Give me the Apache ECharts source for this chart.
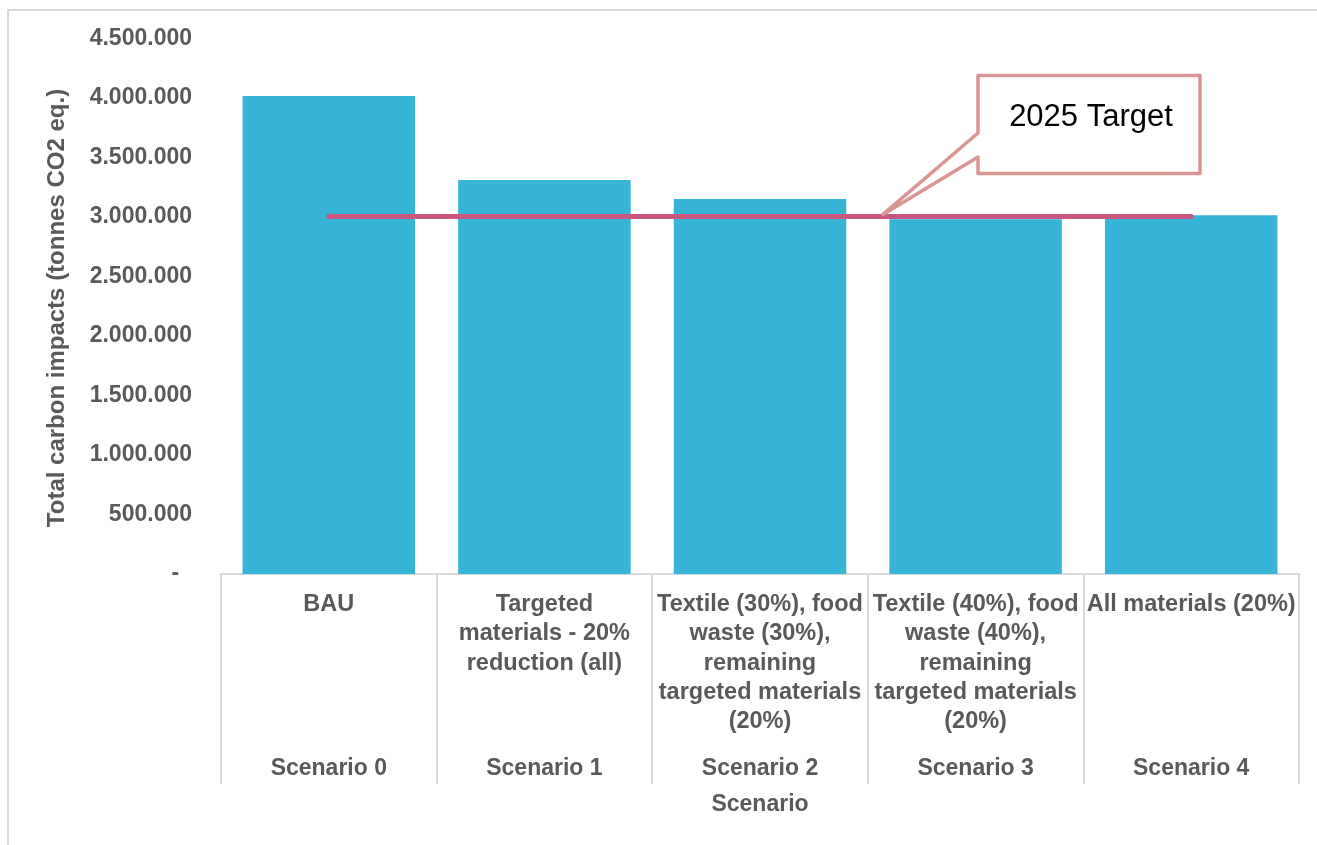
<!DOCTYPE html>
<html>
<head>
<meta charset="utf-8">
<script src="https://cdn.jsdelivr.net/npm/echarts@6/dist/echarts.min.js"></script>
<style>
  html, body { margin: 0; padding: 0; background: #ffffff; }
  #chart { width: 1317px; height: 845px; }
</style>
</head>
<body>
<div id="chart"></div>
<script>
// ---- data ----
var scenarioDescriptions = [
  'BAU',
  'Targeted\nmaterials - 20%\nreduction (all)',
  'Textile (30%), food\nwaste (30%),\nremaining\ntargeted materials\n(20%)',
  'Textile (40%), food\nwaste (40%),\nremaining\ntargeted materials\n(20%)',
  'All materials (20%)'
];
var scenarioNames = ['Scenario 0', 'Scenario 1', 'Scenario 2', 'Scenario 3', 'Scenario 4'];
var carbonImpacts = [4017000, 3311000, 3151000, 2982000, 3014000];
var targetValues = [3005000, 3005000, 3005000, 3005000, 3005000];
var yTickMin = 0, yTickMax = 4500000, yTickStep = 500000;
var yAxisTitle = 'Total carbon impacts (tonnes CO2 eq.)';
var xAxisTitle = 'Scenario';
var targetLabel = '2025 Target';

var FONT = "'Liberation Sans', Arial, Helvetica, sans-serif";
var GREY = '#595959';

function fmt(v) {
  if (v === 0) return '-  ';
  return String(v).replace(/\B(?=(\d{3})+(?!\d))/g, '.');
}

var chart = echarts.init(document.getElementById('chart'), null, { renderer: 'canvas' });

var option = {
  animation: false,
  backgroundColor: '#ffffff',
  grid: { left: 221, right: 18, top: 38.5, bottom: 271, containLabel: false },
  xAxis: [
    {
      type: 'category',
      data: scenarioDescriptions,
      position: 'bottom',
      boundaryGap: true,
      axisLine: { show: true, lineStyle: { color: '#d9d9d9', width: 2 } },
      axisTick: { show: true, length: 210, interval: 0, lineStyle: { color: '#d9d9d9', width: 2 } },
      axisLabel: {
        interval: 0, margin: 16, color: GREY, fontFamily: FONT, fontWeight: 'bold',
        fontSize: 23.5, lineHeight: 29.3, align: 'center'
      },
      splitLine: { show: false }
    },
    {
      type: 'category',
      data: scenarioNames,
      position: 'bottom',
      boundaryGap: true,
      axisLine: { show: false },
      axisTick: { show: false },
      axisLabel: {
        interval: 0, margin: 182, color: GREY, fontFamily: FONT, fontWeight: 'bold',
        fontSize: 23, lineHeight: 26
      },
      splitLine: { show: false }
    }
  ],
  yAxis: {
    type: 'value',
    min: yTickMin, max: yTickMax, interval: yTickStep,
    axisLine: { show: false },
    axisTick: { show: false },
    splitLine: { show: false },
    axisLabel: {
      margin: 29, color: GREY, fontFamily: FONT, fontWeight: 'bold', fontSize: 23,
      padding: [4, 0, 0, 0],
      formatter: fmt
    }
  },
  series: [
    {
      type: 'bar',
      xAxisIndex: 0,
      data: carbonImpacts,
      barWidth: '80%',
      itemStyle: { color: '#36b5d8' },
      z: 2
    },
    {
      type: 'line',
      xAxisIndex: 0,
      data: targetValues,
      symbol: 'none',
      lineStyle: { color: '#c8587f', width: 5, cap: 'round' },
      z: 3
    }
  ],
  graphic: []
};

chart.setOption(option);

// annotation callout, anchored to the target line
var tipY = chart.convertToPixel({ yAxisIndex: 0 }, targetValues[0]);
var tipX = 883;
var bx0 = 978, bx1 = 1200, by0 = 75.5, by1 = 173.5;

chart.setOption({
  graphic: [
    {
      type: 'rect', z: -10, silent: true,
      shape: { x: 8, y: 10, width: 1400, height: 900 },
      style: { fill: 'none', stroke: '#d9d9d9', lineWidth: 2 }
    },
    {
      type: 'text', silent: true,
      x: 57, y: 308, rotation: Math.PI / 2,
      style: {
        text: yAxisTitle, fill: GREY, font: 'bold 24px ' + FONT,
        textAlign: 'center', textVerticalAlign: 'middle'
      }
    },
    {
      type: 'text', silent: true,
      x: 760, y: 805,
      style: {
        text: xAxisTitle, fill: GREY, font: 'bold 23px ' + FONT,
        textAlign: 'center', textVerticalAlign: 'middle'
      }
    },
    {
      type: 'polygon', z: 100, silent: true,
      shape: {
        points: [
          [bx0, by0], [bx0, 133], [tipX, tipY - 2], [bx0, 157], [bx0, by1],
          [bx1, by1], [bx1, by0]
        ]
      },
      style: { fill: '#ffffff', stroke: '#d99694', lineWidth: 3.5, lineJoin: 'round' }
    },
    {
      type: 'text', z: 101, silent: true,
      x: 1091, y: 117,
      style: {
        text: targetLabel, fill: '#000000', font: '31px ' + FONT,
        textAlign: 'center', textVerticalAlign: 'middle'
      }
    }
  ]
});
</script>
</body>
</html>
